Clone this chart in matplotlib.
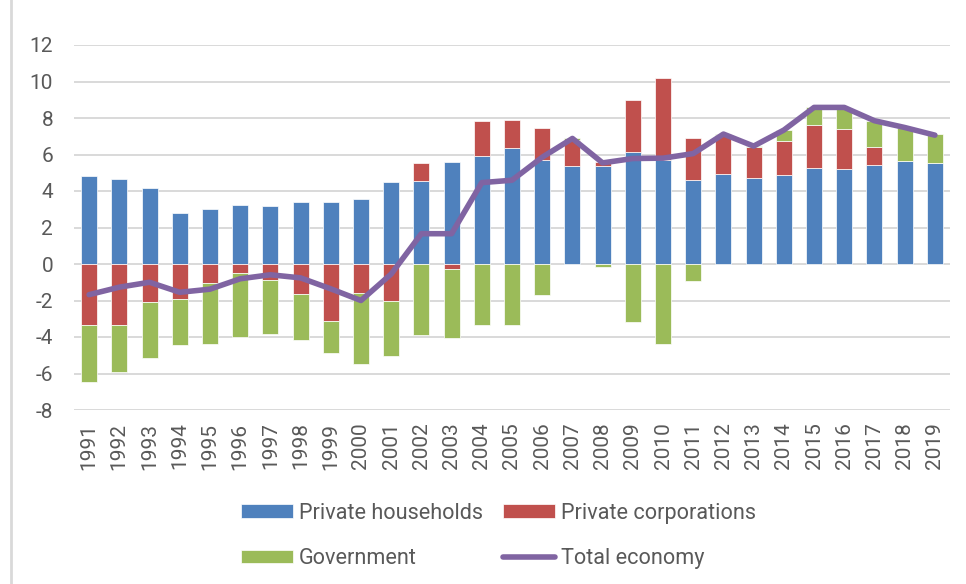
import numpy as np
import matplotlib
matplotlib.use('Agg')
import matplotlib.pyplot as plt
from matplotlib.lines import Line2D

plt.rcParams['font.family'] = ['Roboto', 'DejaVu Sans']
plt.rcParams['axes.unicode_minus'] = False

years = [str(y) for y in range(1991, 2020)]
households = [4.80, 4.65, 4.16, 2.82, 3.04, 3.26, 3.19, 3.39, 3.39, 3.56,
              4.50, 4.55, 5.61, 5.90, 6.33, 5.72, 5.39, 5.36, 6.16, 5.69,
              4.63, 4.92, 4.72, 4.85, 5.28, 5.19, 5.41, 5.63, 5.56]
corporations = [-3.34, -3.34, -2.06, -1.93, -1.02, -0.50, -0.85, -1.64, -3.10, -1.57,
                -2.00, 1.01, -0.30, 1.91, 1.55, 1.73, 1.40, 0.24, 2.84, 4.52,
                2.25, 2.15, 1.70, 1.90, 2.31, 2.20, 0.99, 0.0, 0.0]
government = [-3.15, -2.60, -3.08, -2.51, -3.37, -3.52, -2.99, -2.53, -1.76, -3.93,
              -3.03, -3.89, -3.74, -3.32, -3.32, -1.69, 0.10, -0.15, -3.16, -4.39,
              -0.92, 0.05, 0.04, 0.59, 1.00, 1.17, 1.45, 1.80, 1.54]
total = [-1.68, -1.27, -1.00, -1.55, -1.38, -0.81, -0.59, -0.76, -1.36, -2.00,
         -0.55, 1.66, 1.66, 4.46, 4.59, 5.85, 6.88, 5.54, 5.78, 5.80,
         6.05, 7.12, 6.46, 7.34, 8.58, 8.58, 7.85, 7.48, 7.06]

series = [('Private households', households, '#4F81BD'),
          ('Private corporations', corporations, '#C0504D'),
          ('Government', government, '#9BBB59')]

text_color = '#595959'
grid_color = '#d9d9d9'

fig = plt.figure(figsize=(9.66, 5.84), dpi=100)
ax = fig.add_axes([74 / 966, 1 - 410 / 584, 876 / 966, 365 / 584])

x = np.arange(len(years))
pos_base = np.zeros(len(years))
neg_base = np.zeros(len(years))
bars = {}
for name, vals, color in series:
    v = np.array(vals)
    bottom = np.where(v >= 0, pos_base, neg_base)
    bars[name] = ax.bar(x, v, width=0.53, bottom=bottom, color=color, edgecolor='white',
                        linewidth=0.5, label=name, zorder=2)
    pos_base = pos_base + np.where(v > 0, v, 0)
    neg_base = neg_base + np.where(v < 0, v, 0)

line, = ax.plot(x, total, color='#8064A2', lw=4, solid_joinstyle='round',
                solid_capstyle='round', label='Total economy', zorder=3)

ax.set_xlim(-0.5, len(years) - 0.5)
ax.set_ylim(-8, 12)
ax.set_yticks(range(-8, 13, 2))
ax.set_xticks(x)
ax.set_xticklabels(years, rotation=90)
ax.yaxis.grid(True, color=grid_color, lw=1.4, zorder=0)
ax.set_axisbelow(True)
for s in ax.spines.values():
    s.set_visible(False)
ax.tick_params(axis='y', length=0, pad=15, labelsize=15, labelcolor=text_color)
ax.tick_params(axis='x', length=0, pad=9, labelsize=15, labelcolor=text_color)

# legend filled column by column: households/government, corporations/total
leg_handles = [bars['Private households'], bars['Government'],
               bars['Private corporations'], line]
leg_labels = ['Private households', 'Government', 'Private corporations', 'Total economy']
fig.legend(leg_handles, leg_labels,
           loc='center left', bbox_to_anchor=(241 / 966, 1 - 536 / 584),
           ncol=2, frameon=False, fontsize=15.6, labelcolor=text_color,
           borderpad=0, borderaxespad=0,
           handlelength=2.4, handleheight=0.6, handletextpad=0.28,
           columnspacing=0.92, labelspacing=1.12)

fig.add_artist(Line2D([11 / 966, 11 / 966], [0, 1], color=grid_color, lw=2,
                      transform=fig.transFigure))

fig.savefig('out.png', dpi=100)
